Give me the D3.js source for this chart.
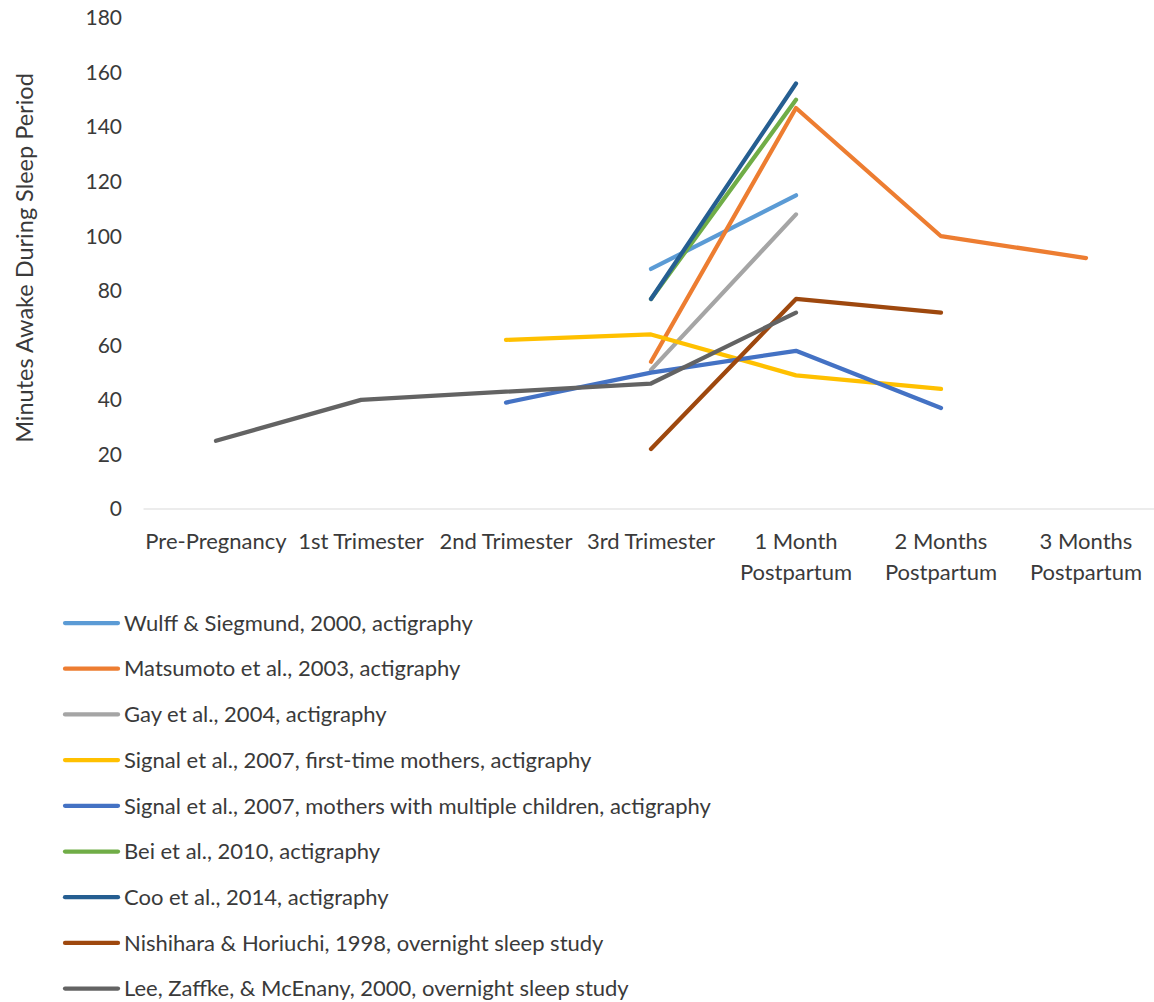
<!DOCTYPE html>
<html>
<head>
<meta charset="utf-8">
<script src="https://cdn.jsdelivr.net/npm/d3@7"></script>
<style>
  body { margin: 0; background: #fff; }
  text { font-family: Lato, "Open Sans", sans-serif; fill: #3a3a3a; }
</style>
</head>
<body>
<div id="chart"></div>
<script>
// categories along the x axis
var periods = ["Pre-Pregnancy", "1st Trimester", "2nd Trimester", "3rd Trimester",
               "1 Month Postpartum", "2 Months Postpartum", "3 Months Postpartum"];
var periodLines = [["Pre-Pregnancy"], ["1st Trimester"], ["2nd Trimester"], ["3rd Trimester"],
                   ["1 Month", "Postpartum"], ["2 Months", "Postpartum"], ["3 Months", "Postpartum"]];

// one value per period, null = not measured
var wulff      = [null, null, null, 88, 115, null, null];
var matsumoto  = [null, null, null, 54, 147, 100, 92];
var gay        = [null, null, null, 51, 108, null, null];
var signalFirst = [null, null, 62, 64, 49, 44, null];
var signalMulti = [null, null, 39, 50, 58, 37, null];
var bei        = [null, null, null, 77, 150, null, null];
var coo        = [null, null, null, 77, 156, null, null];
var nishihara  = [null, null, null, 22, 77, 72, null];
var lee        = [25, 40, null, 46, 72, null, null];

var yTicks = [0, 20, 40, 60, 80, 100, 120, 140, 160, 180];

var series = [
  {name: "Wulff & Siegmund, 2000, actigraphy", color: "#5B9BD5", values: wulff},
  {name: "Matsumoto et al., 2003, actigraphy", color: "#ED7D31", values: matsumoto},
  {name: "Gay et al., 2004, actigraphy", color: "#A5A5A5", values: gay},
  {name: "Signal et al., 2007, first-time mothers, actigraphy", color: "#FFC000", values: signalFirst},
  {name: "Signal et al., 2007, mothers with multiple children, actigraphy", color: "#4472C4", values: signalMulti},
  {name: "Bei et al., 2010, actigraphy", color: "#70AD47", values: bei},
  {name: "Coo et al., 2014, actigraphy", color: "#255E91", values: coo},
  {name: "Nishihara & Horiuchi, 1998, overnight sleep study", color: "#9E480E", values: nishihara},
  {name: "Lee, Zaffke, & McEnany, 2000, overnight sleep study", color: "#636363", values: lee}
];

var W = 1154, H = 1002;
var svg = d3.select("#chart").append("svg").attr("width", W).attr("height", H);

var x = d3.scaleBand().domain(periods).range([143.5, 1158.5]);
var y = d3.scaleLinear().domain([0, 180]).range([509, 18]);

// x axis baseline
svg.append("line")
    .attr("x1", x.range()[0]).attr("x2", x.range()[1])
    .attr("y1", y(0)).attr("y2", y(0))
    .attr("stroke", "#d9d9d9").attr("stroke-width", 1);

// y tick labels
svg.append("g").selectAll("text").data(yTicks).enter().append("text")
    .attr("x", 122).attr("y", function(d){ return y(d); })
    .attr("dy", "0.35em").attr("text-anchor", "end")
    .attr("font-size", 21)
    .text(function(d){ return d; });

// x tick labels (wrapped)
svg.append("g").selectAll("text").data(periods).enter().append("text")
    .attr("font-size", 22).attr("text-anchor", "middle")
    .each(function(d, i){
        var cx = x(d) + x.bandwidth()/2;
        var lines = periodLines[i];
        for (var k = 0; k < lines.length; k++) {
            d3.select(this).append("tspan")
                .attr("x", cx).attr("y", 549 + k*31)
                .text(lines[k]);
        }
    });

// y axis title
svg.append("text")
    .attr("transform", "translate(33," + 258 + ") rotate(-90)")
    .attr("text-anchor", "middle").attr("font-size", 23.5)
    .text("Minutes Awake During Sleep Period");

// lines
var line = d3.line()
    .x(function(d){ return x(d.p) + x.bandwidth()/2; })
    .y(function(d){ return y(d.v); });

svg.append("g").selectAll("path").data(series).enter().append("path")
    .attr("d", function(s){
        var pts = [];
        s.values.forEach(function(v, i){ if (v !== null) pts.push({p: periods[i], v: v}); });
        return line(pts);
    })
    .attr("fill", "none")
    .attr("stroke", function(s){ return s.color; })
    .attr("stroke-width", 4.25)
    .attr("stroke-linecap", "round")
    .attr("stroke-linejoin", "round");

// legend
var leg = svg.append("g").selectAll("g").data(series).enter().append("g")
    .attr("transform", function(d, i){ return "translate(0," + (623 + i*45.7) + ")"; });
leg.append("line")
    .attr("x1", 65).attr("x2", 118).attr("y1", 0).attr("y2", 0)
    .attr("stroke", function(d){ return d.color; })
    .attr("stroke-width", 4.25).attr("stroke-linecap", "round");
leg.append("text")
    .attr("x", 124).attr("y", 0).attr("dy", "0.35em")
    .attr("font-size", 22)
    .text(function(d){ return d.name; });
</script>
</body>
</html>
